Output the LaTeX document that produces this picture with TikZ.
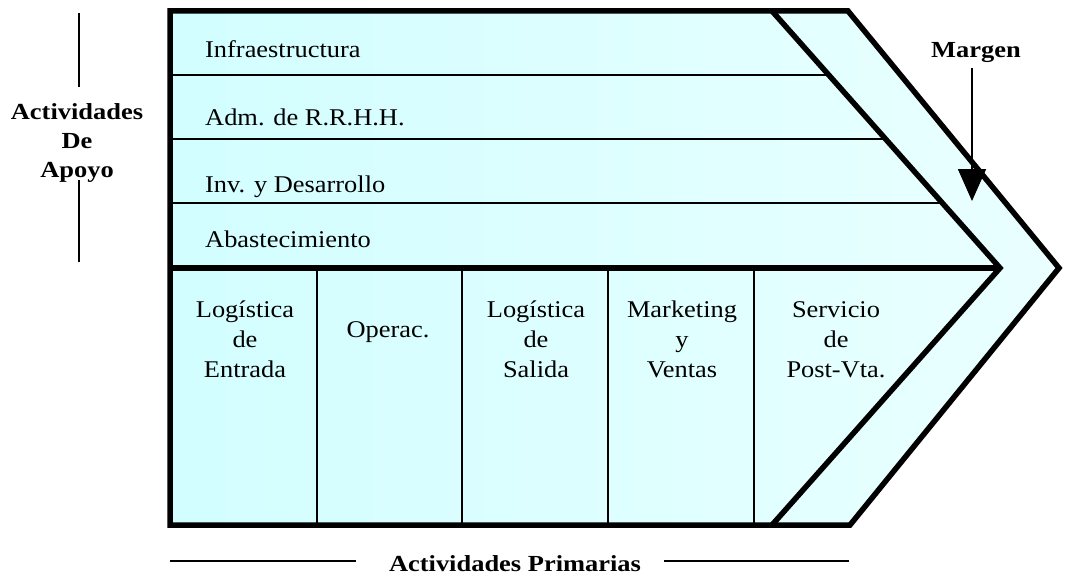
\documentclass[tikz,border=0pt]{standalone}
\usepackage{fontspec}
\setmainfont{Liberation Serif}[FakeStretch=1.1]
\newfontfamily\boldfam{Liberation Serif}[FakeStretch=1.15]
\usetikzlibrary{arrows.meta}
\definecolor{cyanL}{RGB}{210,254,255}
\definecolor{cyanR}{RGB}{234,255,255}
\newcommand\regf{\fontsize{24}{30}\selectfont}
\newcommand\bldf{\boldfam\bfseries\fontsize{23}{29}\selectfont}
\begin{document}
\begin{tikzpicture}[x=1pt,y=-1pt,
  heavy/.style={line width=5.5pt,line join=miter},
  thin/.style={line width=1.8pt},
  sup/.style={anchor=base west,inner sep=0pt,font=\regf},
  prim/.style={anchor=north,inner sep=0pt,align=center,font=\regf},
  lbl/.style={inner sep=0pt,align=center,font=\bldf}]
\useasboundingbox (0,0) rectangle (1065,575);
% coordinates
\coordinate (TL) at (170,11);
\coordinate (TR) at (848,11);
\coordinate (TIP) at (1059,268);
\coordinate (BR) at (850,525);
\coordinate (BL) at (170,525);
\coordinate (IT) at (772,11);
\coordinate (ITIP) at (1000,268);
\coordinate (IB) at (772,525);
\coordinate (ML) at (170,268);
% fill
\path[left color=cyanL,right color=cyanR] (TL) -- (TR) -- (TIP) -- (BR) -- (BL) -- cycle;
% support divisions
\draw[thin] (170,75) -- (828,75);
\draw[thin] (170,139) -- (885,139);
\draw[thin] (170,203) -- (942,203);
% primary divisions
\draw[thin] (317,268) -- (317,525);
\draw[thin] (462,268) -- (462,525);
\draw[thin] (608,268) -- (608,525);
\draw[thin] (754,268) -- (754,525);
% heavy lines
\draw[heavy] (IT) -- (ITIP) -- (IB);
\draw[heavy] (ML) -- (ITIP);
\draw[heavy] (TL) -- (TR) -- (TIP) -- (BR) -- (BL) -- cycle;
% support labels
\node[sup] (infra) at (205,58) {Infraestructura};
\node[sup] (rrhh) at (205,125) {Adm. de R.R.H.H.};
\node[sup] (inv) at (205,192) {Inv. y Desarrollo};
\node[sup] (abas) at (205,247) {Abastecimiento};
% primary labels
\node[prim] (le) at (245,301) {Logística\\de\\Entrada};
\node[prim] (op) at (388,321) {Operac.};
\node[prim] (ls) at (536,301) {Logística\\de\\Salida};
\node[prim] (mv) at (682,301) {Marketing\\y\\Ventas};
\node[prim] (sp) at (836,301) {Servicio\\de\\Post-Vta.};
% left label
\node[lbl,anchor=north] (apoyo) at (77,103) {Actividades\\De\\Apoyo};
\coordinate (a1) at (79,13);
\coordinate (a2) at (79,87);
\coordinate (a3) at (79,180);
\coordinate (a4) at (79,262);
\draw[thin] (a1) -- (a2);
\draw[thin] (a3) -- (a4);
% bottom label
\node[lbl,anchor=base] (prims) at (515,571) {Actividades Primarias};
\coordinate (b1) at (170,561);
\coordinate (b2) at (356,561);
\coordinate (b3) at (664,561);
\coordinate (b4) at (849,561);
\draw[thin] (b1) -- (b2);
\draw[thin] (b3) -- (b4);
% margen
\node[lbl,anchor=base] (margen) at (976,58) {Margen};
\coordinate (mt) at (972,201);
\draw[thin,-{Triangle[width=28pt,length=32pt]}] (margen.south -| mt) ++(0,5) -- (mt);
\end{tikzpicture}
\end{document}
